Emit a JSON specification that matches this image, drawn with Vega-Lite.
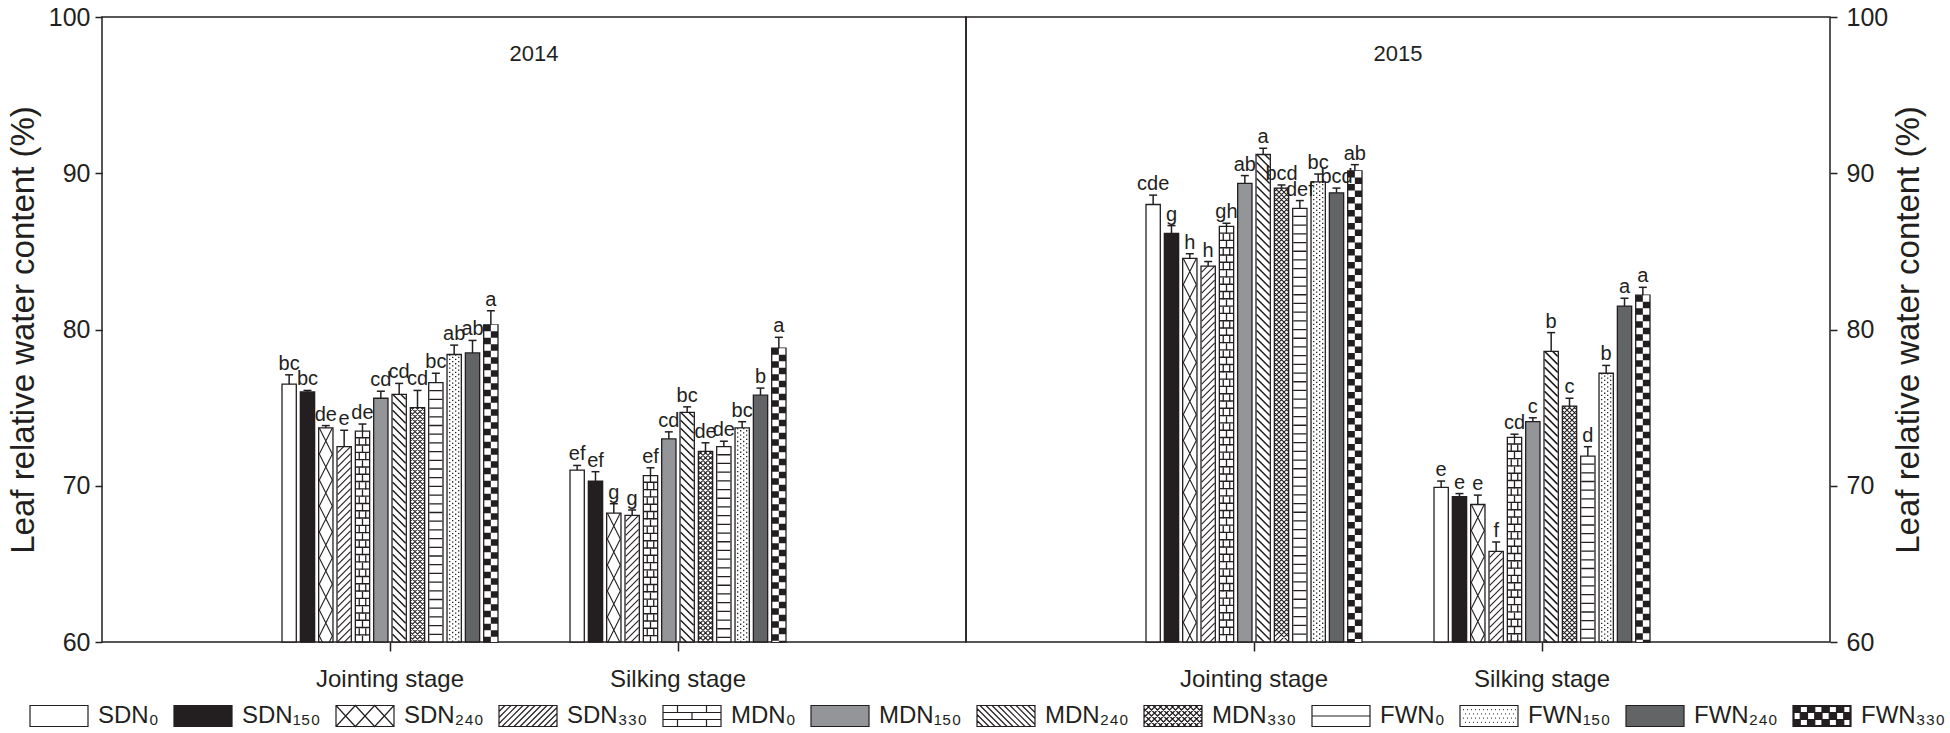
{
"$schema":"https://vega.github.io/schema/vega-lite/v6.json",
"padding":{"left":6,"top":4,"right":0,"bottom":0},
"background":"white",
"config":{
 "font":"Liberation Sans",
 "view":{"stroke":"#231f20","strokeWidth":1.5},
 "axis":{"labelFont":"Liberation Sans","titleFont":"Liberation Sans","labelColor":"#231f20","titleColor":"#231f20","tickColor":"#231f20","domainColor":"#231f20","tickWidth":1.5,"grid":false,"titleFontWeight":"normal"},
 "legend":{"labelFont":"Liberation Sans"}
},
"data":{"name":"main"},
"datasets":{"main":[
{"y":2014,"s":"Jointing stage","t":"SDN₀","v":76.5,"u":77.1,"l":"bc"},
{"y":2014,"s":"Jointing stage","t":"SDN₁₅₀","v":76.0,"u":76.1,"l":"bc"},
{"y":2014,"s":"Jointing stage","t":"SDN₂₄₀","v":73.7,"u":73.85,"l":"de"},
{"y":2014,"s":"Jointing stage","t":"SDN₃₃₀","v":72.5,"u":73.55,"l":"e"},
{"y":2014,"s":"Jointing stage","t":"MDN₀","v":73.5,"u":73.95,"l":"de"},
{"y":2014,"s":"Jointing stage","t":"MDN₁₅₀","v":75.6,"u":76.05,"l":"cd"},
{"y":2014,"s":"Jointing stage","t":"MDN₂₄₀","v":75.85,"u":76.55,"l":"cd"},
{"y":2014,"s":"Jointing stage","t":"MDN₃₃₀","v":75.0,"u":76.1,"l":"cd"},
{"y":2014,"s":"Jointing stage","t":"FWN₀","v":76.6,"u":77.2,"l":"bc"},
{"y":2014,"s":"Jointing stage","t":"FWN₁₅₀","v":78.4,"u":79.0,"l":"ab"},
{"y":2014,"s":"Jointing stage","t":"FWN₂₄₀","v":78.5,"u":79.3,"l":"ab"},
{"y":2014,"s":"Jointing stage","t":"FWN₃₃₀","v":80.3,"u":81.2,"l":"a"},
{"y":2014,"s":"Silking stage","t":"SDN₀","v":71.0,"u":71.3,"l":"ef"},
{"y":2014,"s":"Silking stage","t":"SDN₁₅₀","v":70.3,"u":70.9,"l":"ef"},
{"y":2014,"s":"Silking stage","t":"SDN₂₄₀","v":68.25,"u":68.85,"l":"g"},
{"y":2014,"s":"Silking stage","t":"SDN₃₃₀","v":68.1,"u":68.45,"l":"g"},
{"y":2014,"s":"Silking stage","t":"MDN₀","v":70.65,"u":71.15,"l":"ef"},
{"y":2014,"s":"Silking stage","t":"MDN₁₅₀","v":73.0,"u":73.45,"l":"cd"},
{"y":2014,"s":"Silking stage","t":"MDN₂₄₀","v":74.7,"u":75.05,"l":"bc"},
{"y":2014,"s":"Silking stage","t":"MDN₃₃₀","v":72.2,"u":72.75,"l":"de"},
{"y":2014,"s":"Silking stage","t":"FWN₀","v":72.5,"u":72.85,"l":"de"},
{"y":2014,"s":"Silking stage","t":"FWN₁₅₀","v":73.7,"u":74.1,"l":"bc"},
{"y":2014,"s":"Silking stage","t":"FWN₂₄₀","v":75.8,"u":76.25,"l":"b"},
{"y":2014,"s":"Silking stage","t":"FWN₃₃₀","v":78.8,"u":79.5,"l":"a"},
{"y":2015,"s":"Jointing stage","t":"SDN₀","v":88.0,"u":88.6,"l":"cde"},
{"y":2015,"s":"Jointing stage","t":"SDN₁₅₀","v":86.15,"u":86.65,"l":"g"},
{"y":2015,"s":"Jointing stage","t":"SDN₂₄₀","v":84.55,"u":84.85,"l":"h"},
{"y":2015,"s":"Jointing stage","t":"SDN₃₃₀","v":84.05,"u":84.35,"l":"h"},
{"y":2015,"s":"Jointing stage","t":"MDN₀","v":86.6,"u":86.8,"l":"gh"},
{"y":2015,"s":"Jointing stage","t":"MDN₁₅₀","v":89.35,"u":89.85,"l":"ab"},
{"y":2015,"s":"Jointing stage","t":"MDN₂₄₀","v":91.2,"u":91.6,"l":"a"},
{"y":2015,"s":"Jointing stage","t":"MDN₃₃₀","v":89.05,"u":89.25,"l":"bcd"},
{"y":2015,"s":"Jointing stage","t":"FWN₀","v":87.75,"u":88.25,"l":"def"},
{"y":2015,"s":"Jointing stage","t":"FWN₁₅₀","v":89.45,"u":89.95,"l":"bc"},
{"y":2015,"s":"Jointing stage","t":"FWN₂₄₀","v":88.75,"u":89.05,"l":"bcd"},
{"y":2015,"s":"Jointing stage","t":"FWN₃₃₀","v":90.15,"u":90.55,"l":"ab"},
{"y":2015,"s":"Silking stage","t":"SDN₀","v":69.9,"u":70.3,"l":"e"},
{"y":2015,"s":"Silking stage","t":"SDN₁₅₀","v":69.3,"u":69.5,"l":"e"},
{"y":2015,"s":"Silking stage","t":"SDN₂₄₀","v":68.8,"u":69.4,"l":"e"},
{"y":2015,"s":"Silking stage","t":"SDN₃₃₀","v":65.8,"u":66.4,"l":"f"},
{"y":2015,"s":"Silking stage","t":"MDN₀","v":73.1,"u":73.3,"l":"cd"},
{"y":2015,"s":"Silking stage","t":"MDN₁₅₀","v":74.1,"u":74.35,"l":"c"},
{"y":2015,"s":"Silking stage","t":"MDN₂₄₀","v":78.6,"u":79.8,"l":"b"},
{"y":2015,"s":"Silking stage","t":"MDN₃₃₀","v":75.1,"u":75.6,"l":"c"},
{"y":2015,"s":"Silking stage","t":"FWN₀","v":71.9,"u":72.5,"l":"d"},
{"y":2015,"s":"Silking stage","t":"FWN₁₅₀","v":77.2,"u":77.7,"l":"b"},
{"y":2015,"s":"Silking stage","t":"FWN₂₄₀","v":81.5,"u":82.0,"l":"a"},
{"y":2015,"s":"Silking stage","t":"FWN₃₃₀","v":82.2,"u":82.7,"l":"a"}
]},
"spacing":0,
"bounds":"flush",
"hconcat":[
{
 "width":864,"height":625,
 "title":{"text":"2014","frame":"group","offset":-61,"fontSize":22,"fontWeight":"normal","font":"Liberation Sans","color":"#231f20"},
 "transform":[{"filter":"datum.y === 2014"}],
 "encoding":{
  "x":{"field":"s","type":"nominal","sort":["Jointing stage","Silking stage"],"scale":{"type":"band","paddingInner":0.25,"paddingOuter":0.625},"axis":{"title":null,"labelAngle":0,"labelFontSize":24,"tickSize":9,"labelPadding":16,"domain":false}},
  "xOffset":{"field":"t","type":"nominal","scale":{"domain":["SDN₀","SDN₁₅₀","SDN₂₄₀","SDN₃₃₀","MDN₀","MDN₁₅₀","MDN₂₄₀","MDN₃₃₀","FWN₀","FWN₁₅₀","FWN₂₄₀","FWN₃₃₀"],"paddingInner":0.22,"paddingOuter":0}},
  "y":{"field":"v","type":"quantitative","scale":{"domain":[60,100],"nice":false,"zero":false},"axis":{"orient":"left","values":[60,70,80,90,100],"title":"Leaf relative water content (%)","titleFontSize":33,"labelFontSize":25,"tickSize":7,"labelPadding":5,"titlePadding":8,"domain":false}}
 },
 "layer":[
  {"mark":{"type":"bar","stroke":"#231f20","strokeWidth":1.3},
   "encoding":{"y2":{"datum":60},
    "fill":{"field":"t","type":"nominal","scale":{"domain":["SDN₀","SDN₁₅₀","SDN₂₄₀","SDN₃₃₀","MDN₀","MDN₁₅₀","MDN₂₄₀","MDN₃₃₀","FWN₀","FWN₁₅₀","FWN₂₄₀","FWN₃₃₀"],"range":["#ffffff","#231f20","#ffffff","#ffffff","#ffffff","#939598","#ffffff","#ffffff","#ffffff","#ffffff","#636466","#231f20"]},
     "legend":{"orient":"none","legendX":-84,"legendY":687,"direction":"horizontal","gridAlign":"none","title":null,"symbolSize":4,"symbolStrokeColor":"#231f20","symbolStrokeWidth":1.2,"symbolOpacity":1,"labelFontSize":24,"labelColor":"#231f20","labelOffset":56,"columnPadding":3,"labelLimit":0,"padding":0,
      "encode":{"symbols":{"update":{
       "stroke":{"value":"#231f20"},"strokeWidth":{"value":1.2},"opacity":{"value":1},
       "shape":{"signal":"datum.value==='SDN₂₄₀'?'M0,-10.5H58V10.5H0ZM0,-10.5L19.33,10.5L38.67,-10.5L58,10.5M0,10.5L19.33,-10.5L38.67,10.5L58,-10.5':datum.value==='SDN₃₃₀'?'M0,-10.5H58V10.5H0ZM0,-4.5L6,-10.5M0,1.5L12,-10.5M0,7.5L18,-10.5M3,10.5L24,-10.5M9,10.5L30,-10.5M15,10.5L36,-10.5M21,10.5L42,-10.5M27,10.5L48,-10.5M33,10.5L54,-10.5M39,10.5L58,-8.5M45,10.5L58,-2.5M51,10.5L58,3.5M57,10.5L58,9.5':datum.value==='MDN₀'?'M0,-10.5H58V10.5H0ZM0,-3.5H58M0,3.5H58M14.5,-10.5V-3.5M43.5,-10.5V-3.5M29,-3.5V3.5M14.5,3.5V10.5M43.5,3.5V10.5':datum.value==='MDN₂₄₀'?'M0,-10.5H58V10.5H0ZM0,4.5L6,10.5M0,-1.5L12,10.5M0,-7.5L18,10.5M3,-10.5L24,10.5M9,-10.5L30,10.5M15,-10.5L36,10.5M21,-10.5L42,10.5M27,-10.5L48,10.5M33,-10.5L54,10.5M39,-10.5L58,8.5M45,-10.5L58,2.5M51,-10.5L58,-3.5M57,-10.5L58,-9.5':datum.value==='MDN₃₃₀'?'M0,-10.5H58V10.5H0ZM0,-4.5L6,-10.5M0,1.5L12,-10.5M0,7.5L18,-10.5M3,10.5L24,-10.5M9,10.5L30,-10.5M15,10.5L36,-10.5M21,10.5L42,-10.5M27,10.5L48,-10.5M33,10.5L54,-10.5M39,10.5L58,-8.5M45,10.5L58,-2.5M51,10.5L58,3.5M57,10.5L58,9.5M0,4.5L6,10.5M0,-1.5L12,10.5M0,-7.5L18,10.5M3,-10.5L24,10.5M9,-10.5L30,10.5M15,-10.5L36,10.5M21,-10.5L42,10.5M27,-10.5L48,10.5M33,-10.5L54,10.5M39,-10.5L58,8.5M45,-10.5L58,2.5M51,-10.5L58,-3.5M57,-10.5L58,-9.5':datum.value==='FWN₀'?'M0,-10.5H58V10.5H0ZM0,0H58':datum.value==='FWN₁₅₀'?'M0,-10.5H58V10.5H0ZM3,-6.3h0.8m3.2,0h0.8m3.2,0h0.8m3.2,0h0.8m3.2,0h0.8m3.2,0h0.8m3.2,0h0.8m3.2,0h0.8m3.2,0h0.8m3.2,0h0.8m3.2,0h0.8m3.2,0h0.8m3.2,0h0.8m3.2,0h0.8M5,-2.1h0.8m3.2,0h0.8m3.2,0h0.8m3.2,0h0.8m3.2,0h0.8m3.2,0h0.8m3.2,0h0.8m3.2,0h0.8m3.2,0h0.8m3.2,0h0.8m3.2,0h0.8m3.2,0h0.8m3.2,0h0.8M3,2.1h0.8m3.2,0h0.8m3.2,0h0.8m3.2,0h0.8m3.2,0h0.8m3.2,0h0.8m3.2,0h0.8m3.2,0h0.8m3.2,0h0.8m3.2,0h0.8m3.2,0h0.8m3.2,0h0.8m3.2,0h0.8m3.2,0h0.8M5,6.3h0.8m3.2,0h0.8m3.2,0h0.8m3.2,0h0.8m3.2,0h0.8m3.2,0h0.8m3.2,0h0.8m3.2,0h0.8m3.2,0h0.8m3.2,0h0.8m3.2,0h0.8m3.2,0h0.8m3.2,0h0.8':datum.value==='FWN₃₃₀'?'M0,-10.5H58V10.5H0ZM1,-9.5V9.5H57V-9.5ZM0,-10.5h7.25v7h-7.25zM14.5,-10.5h7.25v7h-7.25zM29,-10.5h7.25v7h-7.25zM43.5,-10.5h7.25v7h-7.25zM7.25,-3.5h7.25v7h-7.25zM21.75,-3.5h7.25v7h-7.25zM36.25,-3.5h7.25v7h-7.25zM50.75,-3.5h7.25v7h-7.25zM0,3.5h7.25v7h-7.25zM14.5,3.5h7.25v7h-7.25zM29,3.5h7.25v7h-7.25zM43.5,3.5h7.25v7h-7.25z':'M0,-10.5H58V10.5H0Z'"}
      }}}}}}},
  {"transform":[{"filter":"datum.t === 'SDN₂₄₀'"}],"mark":{"type":"point","clip":true,"size":4,"filled":false,"opacity":1,"stroke":"#231f20","strokeWidth":1.1,"shape":"M-6.5,0l13,26l-13,26l13,26l-13,26l13,26l-13,26l13,26l-13,26l13,26l-13,26l13,26l-13,26l13,26l-13,26l13,26l-13,26M6.5,0l-13,26l13,26l-13,26l13,26l-13,26l13,26l-13,26l13,26l-13,26l13,26l-13,26l13,26l-13,26l13,26l-13,26l13,26"}},
  {"transform":[{"filter":"datum.t === 'SDN₃₃₀'"}],"mark":{"type":"point","clip":true,"size":4,"filled":false,"opacity":1,"stroke":"#231f20","strokeWidth":1.1,"shape":"M-6.5,6L-0.5,0M-6.5,13l13,-13m-13,20l13,-13m-13,20l13,-13m-13,20l13,-13m-13,20l13,-13m-13,20l13,-13m-13,20l13,-13m-13,20l13,-13m-13,20l13,-13m-13,20l13,-13m-13,20l13,-13m-13,20l13,-13m-13,20l13,-13m-13,20l13,-13m-13,20l13,-13m-13,20l13,-13m-13,20l13,-13m-13,20l13,-13m-13,20l13,-13m-13,20l13,-13m-13,20l13,-13m-13,20l13,-13m-13,20l13,-13m-13,20l13,-13m-13,20l13,-13m-13,20l13,-13m-13,20l13,-13m-13,20l13,-13m-13,20l13,-13m-13,20l13,-13m-13,20l13,-13m-13,20l13,-13m-13,20l13,-13m-13,20l13,-13m-13,20l13,-13m-13,20l13,-13m-13,20l13,-13m-13,20l13,-13m-13,20l13,-13m-13,20l13,-13m-13,20l13,-13m-13,20l13,-13m-13,20l13,-13m-13,20l13,-13m-13,20l13,-13m-13,20l13,-13m-13,20l13,-13m-13,20l13,-13m-13,20l13,-13m-13,20l13,-13m-13,20l13,-13m-13,20l13,-13m-13,20l13,-13m-13,20l13,-13m-13,20l13,-13"}},
  {"transform":[{"filter":"datum.t === 'MDN₀'"}],"mark":{"type":"point","clip":true,"size":4,"filled":false,"opacity":1,"stroke":"#231f20","strokeWidth":13,"strokeDash":[1.4,5.9],"shape":"M0,6V500"}},
  {"transform":[{"filter":"datum.t === 'MDN₀'"}],"mark":{"type":"point","clip":true,"size":4,"filled":false,"opacity":1,"stroke":"#231f20","strokeWidth":1.3,"strokeDash":[7.3,7.3],"shape":"M0,0V496.4M-3.25,7.3V503.7M3.25,7.3V503.7"}},
  {"transform":[{"filter":"datum.t === 'MDN₂₄₀'"}],"mark":{"type":"point","clip":true,"size":4,"filled":false,"opacity":1,"stroke":"#231f20","strokeWidth":1.5,"shape":"M1.5,0L6.5,5M-6.5,0l13,13m-13,-5l13,13m-13,-5l13,13m-13,-5l13,13m-13,-5l13,13m-13,-5l13,13m-13,-5l13,13m-13,-5l13,13m-13,-5l13,13m-13,-5l13,13m-13,-5l13,13m-13,-5l13,13m-13,-5l13,13m-13,-5l13,13m-13,-5l13,13m-13,-5l13,13m-13,-5l13,13m-13,-5l13,13m-13,-5l13,13m-13,-5l13,13m-13,-5l13,13m-13,-5l13,13m-13,-5l13,13m-13,-5l13,13m-13,-5l13,13m-13,-5l13,13m-13,-5l13,13m-13,-5l13,13m-13,-5l13,13m-13,-5l13,13m-13,-5l13,13m-13,-5l13,13m-13,-5l13,13m-13,-5l13,13m-13,-5l13,13m-13,-5l13,13m-13,-5l13,13m-13,-5l13,13m-13,-5l13,13m-13,-5l13,13m-13,-5l13,13m-13,-5l13,13m-13,-5l13,13m-13,-5l13,13m-13,-5l13,13m-13,-5l13,13m-13,-5l13,13m-13,-5l13,13m-13,-5l13,13m-13,-5l13,13m-13,-5l13,13m-13,-5l13,13m-13,-5l13,13m-13,-5l13,13m-13,-5l13,13m-13,-5l13,13m-13,-5l13,13m-13,-5l13,13m-13,-5l13,13m-13,-5l13,13m-13,-5l13,13m-13,-5l13,13m-13,-5l13,13m-13,-5l13,13m-13,-5l13,13"}},
  {"transform":[{"filter":"datum.t === 'MDN₃₃₀'"}],"mark":{"type":"point","clip":true,"size":4,"filled":false,"opacity":1,"stroke":"#231f20","strokeWidth":1.1,"shape":"M-6.5,3L-3.5,0M-6.5,8L1.5,0M-6.5,13l13,-13m-13,18l13,-13m-13,18l13,-13m-13,18l13,-13m-13,18l13,-13m-13,18l13,-13m-13,18l13,-13m-13,18l13,-13m-13,18l13,-13m-13,18l13,-13m-13,18l13,-13m-13,18l13,-13m-13,18l13,-13m-13,18l13,-13m-13,18l13,-13m-13,18l13,-13m-13,18l13,-13m-13,18l13,-13m-13,18l13,-13m-13,18l13,-13m-13,18l13,-13m-13,18l13,-13m-13,18l13,-13m-13,18l13,-13m-13,18l13,-13m-13,18l13,-13m-13,18l13,-13m-13,18l13,-13m-13,18l13,-13m-13,18l13,-13m-13,18l13,-13m-13,18l13,-13m-13,18l13,-13m-13,18l13,-13m-13,18l13,-13m-13,18l13,-13m-13,18l13,-13m-13,18l13,-13m-13,18l13,-13m-13,18l13,-13m-13,18l13,-13m-13,18l13,-13m-13,18l13,-13m-13,18l13,-13m-13,18l13,-13m-13,18l13,-13m-13,18l13,-13m-13,18l13,-13m-13,18l13,-13m-13,18l13,-13m-13,18l13,-13m-13,18l13,-13m-13,18l13,-13m-13,18l13,-13m-13,18l13,-13m-13,18l13,-13m-13,18l13,-13m-13,18l13,-13m-13,18l13,-13m-13,18l13,-13m-13,18l13,-13m-13,18l13,-13m-13,18l13,-13m-13,18l13,-13m-13,18l13,-13m-13,18l13,-13m-13,18l13,-13m-13,18l13,-13m-13,18l13,-13m-13,18l13,-13m-13,18l13,-13m-13,18l13,-13m-13,18l13,-13m-13,18l13,-13m-13,18l13,-13m-13,18l13,-13m-13,18l13,-13m-13,18l13,-13m-13,18l13,-13m-13,18l13,-13m-13,18l13,-13m-13,18l13,-13m-13,18l13,-13m-13,18l13,-13m-13,18l13,-13m-13,18l13,-13m-13,18l13,-13M3.5,0L6.5,3M-1.5,0L6.5,8M-6.5,0l13,13m-13,-8l13,13m-13,-8l13,13m-13,-8l13,13m-13,-8l13,13m-13,-8l13,13m-13,-8l13,13m-13,-8l13,13m-13,-8l13,13m-13,-8l13,13m-13,-8l13,13m-13,-8l13,13m-13,-8l13,13m-13,-8l13,13m-13,-8l13,13m-13,-8l13,13m-13,-8l13,13m-13,-8l13,13m-13,-8l13,13m-13,-8l13,13m-13,-8l13,13m-13,-8l13,13m-13,-8l13,13m-13,-8l13,13m-13,-8l13,13m-13,-8l13,13m-13,-8l13,13m-13,-8l13,13m-13,-8l13,13m-13,-8l13,13m-13,-8l13,13m-13,-8l13,13m-13,-8l13,13m-13,-8l13,13m-13,-8l13,13m-13,-8l13,13m-13,-8l13,13m-13,-8l13,13m-13,-8l13,13m-13,-8l13,13m-13,-8l13,13m-13,-8l13,13m-13,-8l13,13m-13,-8l13,13m-13,-8l13,13m-13,-8l13,13m-13,-8l13,13m-13,-8l13,13m-13,-8l13,13m-13,-8l13,13m-13,-8l13,13m-13,-8l13,13m-13,-8l13,13m-13,-8l13,13m-13,-8l13,13m-13,-8l13,13m-13,-8l13,13m-13,-8l13,13m-13,-8l13,13m-13,-8l13,13m-13,-8l13,13m-13,-8l13,13m-13,-8l13,13m-13,-8l13,13m-13,-8l13,13m-13,-8l13,13m-13,-8l13,13m-13,-8l13,13m-13,-8l13,13m-13,-8l13,13m-13,-8l13,13m-13,-8l13,13m-13,-8l13,13m-13,-8l13,13m-13,-8l13,13m-13,-8l13,13m-13,-8l13,13m-13,-8l13,13m-13,-8l13,13m-13,-8l13,13m-13,-8l13,13m-13,-8l13,13m-13,-8l13,13m-13,-8l13,13m-13,-8l13,13m-13,-8l13,13m-13,-8l13,13"}},
  {"transform":[{"filter":"datum.t === 'FWN₀'"}],"mark":{"type":"point","clip":true,"size":4,"filled":false,"opacity":1,"stroke":"#231f20","strokeWidth":13,"strokeDash":[1.3,7.4],"shape":"M0,7.4V500"}},
  {"transform":[{"filter":"datum.t === 'FWN₁₅₀'"}],"mark":{"type":"point","clip":true,"size":4,"filled":false,"opacity":1,"stroke":"#231f20","strokeWidth":1.3,"strokeDash":[1.3,3],"shape":"M-4.5,0V494.5M1.5,0V494.5M-1.5,2.15V496.65M4.5,2.15V496.65"}},
  {"transform":[{"filter":"datum.t === 'FWN₃₃₀'"}],"mark":{"type":"point","clip":true,"size":4,"filled":false,"opacity":1,"stroke":"#ffffff","strokeWidth":6.5,"strokeDash":[6.5,6.5],"shape":"M3.25,0V494M-3.25,6.5V500.5"}},
  {"mark":{"type":"rule","stroke":"#231f20","strokeWidth":1.5},"encoding":{"y2":{"field":"u"}}},
  {"mark":{"type":"tick","orient":"horizontal","color":"#231f20","thickness":1.5,"opacity":1},"encoding":{"y":{"field":"u","type":"quantitative"},"size":{"value":8}}},
  {"mark":{"type":"text","baseline":"alphabetic","dy":-5,"fontSize":20,"color":"#231f20"},"encoding":{"y":{"field":"u","type":"quantitative"},"text":{"field":"l"}}}
 ]
},
{
 "width":864,"height":625,
 "title":{"text":"2015","frame":"group","offset":-61,"fontSize":22,"fontWeight":"normal","font":"Liberation Sans","color":"#231f20"},
 "transform":[{"filter":"datum.y === 2015"}],
 "encoding":{
  "x":{"field":"s","type":"nominal","sort":["Jointing stage","Silking stage"],"scale":{"type":"band","paddingInner":0.25,"paddingOuter":0.625},"axis":{"title":null,"labelAngle":0,"labelFontSize":24,"tickSize":9,"labelPadding":16,"domain":false}},
  "xOffset":{"field":"t","type":"nominal","scale":{"domain":["SDN₀","SDN₁₅₀","SDN₂₄₀","SDN₃₃₀","MDN₀","MDN₁₅₀","MDN₂₄₀","MDN₃₃₀","FWN₀","FWN₁₅₀","FWN₂₄₀","FWN₃₃₀"],"paddingInner":0.22,"paddingOuter":0}},
  "y":{"field":"v","type":"quantitative","scale":{"domain":[60,100],"nice":false,"zero":false},"axis":{"orient":"right","values":[60,70,80,90,100],"title":"Leaf relative water content (%)","titleAngle":270,"titleBaseline":"top","titleFontSize":33,"labelFontSize":25,"tickSize":7,"labelPadding":9,"titlePadding":5,"domain":false}}
 },
 "layer":[
  {"mark":{"type":"bar","stroke":"#231f20","strokeWidth":1.3},
   "encoding":{"y2":{"datum":60},
    "fill":{"field":"t","type":"nominal","scale":{"domain":["SDN₀","SDN₁₅₀","SDN₂₄₀","SDN₃₃₀","MDN₀","MDN₁₅₀","MDN₂₄₀","MDN₃₃₀","FWN₀","FWN₁₅₀","FWN₂₄₀","FWN₃₃₀"],"range":["#ffffff","#231f20","#ffffff","#ffffff","#ffffff","#939598","#ffffff","#ffffff","#ffffff","#ffffff","#636466","#231f20"]},"legend":null}}},
  {"transform":[{"filter":"datum.t === 'SDN₂₄₀'"}],"mark":{"type":"point","clip":true,"size":4,"filled":false,"opacity":1,"stroke":"#231f20","strokeWidth":1.1,"shape":"M-6.5,0l13,26l-13,26l13,26l-13,26l13,26l-13,26l13,26l-13,26l13,26l-13,26l13,26l-13,26l13,26l-13,26l13,26l-13,26M6.5,0l-13,26l13,26l-13,26l13,26l-13,26l13,26l-13,26l13,26l-13,26l13,26l-13,26l13,26l-13,26l13,26l-13,26l13,26"}},
  {"transform":[{"filter":"datum.t === 'SDN₃₃₀'"}],"mark":{"type":"point","clip":true,"size":4,"filled":false,"opacity":1,"stroke":"#231f20","strokeWidth":1.1,"shape":"M-6.5,6L-0.5,0M-6.5,13l13,-13m-13,20l13,-13m-13,20l13,-13m-13,20l13,-13m-13,20l13,-13m-13,20l13,-13m-13,20l13,-13m-13,20l13,-13m-13,20l13,-13m-13,20l13,-13m-13,20l13,-13m-13,20l13,-13m-13,20l13,-13m-13,20l13,-13m-13,20l13,-13m-13,20l13,-13m-13,20l13,-13m-13,20l13,-13m-13,20l13,-13m-13,20l13,-13m-13,20l13,-13m-13,20l13,-13m-13,20l13,-13m-13,20l13,-13m-13,20l13,-13m-13,20l13,-13m-13,20l13,-13m-13,20l13,-13m-13,20l13,-13m-13,20l13,-13m-13,20l13,-13m-13,20l13,-13m-13,20l13,-13m-13,20l13,-13m-13,20l13,-13m-13,20l13,-13m-13,20l13,-13m-13,20l13,-13m-13,20l13,-13m-13,20l13,-13m-13,20l13,-13m-13,20l13,-13m-13,20l13,-13m-13,20l13,-13m-13,20l13,-13m-13,20l13,-13m-13,20l13,-13m-13,20l13,-13m-13,20l13,-13m-13,20l13,-13m-13,20l13,-13m-13,20l13,-13m-13,20l13,-13m-13,20l13,-13m-13,20l13,-13"}},
  {"transform":[{"filter":"datum.t === 'MDN₀'"}],"mark":{"type":"point","clip":true,"size":4,"filled":false,"opacity":1,"stroke":"#231f20","strokeWidth":13,"strokeDash":[1.4,5.9],"shape":"M0,6V500"}},
  {"transform":[{"filter":"datum.t === 'MDN₀'"}],"mark":{"type":"point","clip":true,"size":4,"filled":false,"opacity":1,"stroke":"#231f20","strokeWidth":1.3,"strokeDash":[7.3,7.3],"shape":"M0,0V496.4M-3.25,7.3V503.7M3.25,7.3V503.7"}},
  {"transform":[{"filter":"datum.t === 'MDN₂₄₀'"}],"mark":{"type":"point","clip":true,"size":4,"filled":false,"opacity":1,"stroke":"#231f20","strokeWidth":1.5,"shape":"M1.5,0L6.5,5M-6.5,0l13,13m-13,-5l13,13m-13,-5l13,13m-13,-5l13,13m-13,-5l13,13m-13,-5l13,13m-13,-5l13,13m-13,-5l13,13m-13,-5l13,13m-13,-5l13,13m-13,-5l13,13m-13,-5l13,13m-13,-5l13,13m-13,-5l13,13m-13,-5l13,13m-13,-5l13,13m-13,-5l13,13m-13,-5l13,13m-13,-5l13,13m-13,-5l13,13m-13,-5l13,13m-13,-5l13,13m-13,-5l13,13m-13,-5l13,13m-13,-5l13,13m-13,-5l13,13m-13,-5l13,13m-13,-5l13,13m-13,-5l13,13m-13,-5l13,13m-13,-5l13,13m-13,-5l13,13m-13,-5l13,13m-13,-5l13,13m-13,-5l13,13m-13,-5l13,13m-13,-5l13,13m-13,-5l13,13m-13,-5l13,13m-13,-5l13,13m-13,-5l13,13m-13,-5l13,13m-13,-5l13,13m-13,-5l13,13m-13,-5l13,13m-13,-5l13,13m-13,-5l13,13m-13,-5l13,13m-13,-5l13,13m-13,-5l13,13m-13,-5l13,13m-13,-5l13,13m-13,-5l13,13m-13,-5l13,13m-13,-5l13,13m-13,-5l13,13m-13,-5l13,13m-13,-5l13,13m-13,-5l13,13m-13,-5l13,13m-13,-5l13,13m-13,-5l13,13m-13,-5l13,13m-13,-5l13,13"}},
  {"transform":[{"filter":"datum.t === 'MDN₃₃₀'"}],"mark":{"type":"point","clip":true,"size":4,"filled":false,"opacity":1,"stroke":"#231f20","strokeWidth":1.1,"shape":"M-6.5,3L-3.5,0M-6.5,8L1.5,0M-6.5,13l13,-13m-13,18l13,-13m-13,18l13,-13m-13,18l13,-13m-13,18l13,-13m-13,18l13,-13m-13,18l13,-13m-13,18l13,-13m-13,18l13,-13m-13,18l13,-13m-13,18l13,-13m-13,18l13,-13m-13,18l13,-13m-13,18l13,-13m-13,18l13,-13m-13,18l13,-13m-13,18l13,-13m-13,18l13,-13m-13,18l13,-13m-13,18l13,-13m-13,18l13,-13m-13,18l13,-13m-13,18l13,-13m-13,18l13,-13m-13,18l13,-13m-13,18l13,-13m-13,18l13,-13m-13,18l13,-13m-13,18l13,-13m-13,18l13,-13m-13,18l13,-13m-13,18l13,-13m-13,18l13,-13m-13,18l13,-13m-13,18l13,-13m-13,18l13,-13m-13,18l13,-13m-13,18l13,-13m-13,18l13,-13m-13,18l13,-13m-13,18l13,-13m-13,18l13,-13m-13,18l13,-13m-13,18l13,-13m-13,18l13,-13m-13,18l13,-13m-13,18l13,-13m-13,18l13,-13m-13,18l13,-13m-13,18l13,-13m-13,18l13,-13m-13,18l13,-13m-13,18l13,-13m-13,18l13,-13m-13,18l13,-13m-13,18l13,-13m-13,18l13,-13m-13,18l13,-13m-13,18l13,-13m-13,18l13,-13m-13,18l13,-13m-13,18l13,-13m-13,18l13,-13m-13,18l13,-13m-13,18l13,-13m-13,18l13,-13m-13,18l13,-13m-13,18l13,-13m-13,18l13,-13m-13,18l13,-13m-13,18l13,-13m-13,18l13,-13m-13,18l13,-13m-13,18l13,-13m-13,18l13,-13m-13,18l13,-13m-13,18l13,-13m-13,18l13,-13m-13,18l13,-13m-13,18l13,-13m-13,18l13,-13m-13,18l13,-13m-13,18l13,-13m-13,18l13,-13m-13,18l13,-13m-13,18l13,-13m-13,18l13,-13m-13,18l13,-13m-13,18l13,-13m-13,18l13,-13M3.5,0L6.5,3M-1.5,0L6.5,8M-6.5,0l13,13m-13,-8l13,13m-13,-8l13,13m-13,-8l13,13m-13,-8l13,13m-13,-8l13,13m-13,-8l13,13m-13,-8l13,13m-13,-8l13,13m-13,-8l13,13m-13,-8l13,13m-13,-8l13,13m-13,-8l13,13m-13,-8l13,13m-13,-8l13,13m-13,-8l13,13m-13,-8l13,13m-13,-8l13,13m-13,-8l13,13m-13,-8l13,13m-13,-8l13,13m-13,-8l13,13m-13,-8l13,13m-13,-8l13,13m-13,-8l13,13m-13,-8l13,13m-13,-8l13,13m-13,-8l13,13m-13,-8l13,13m-13,-8l13,13m-13,-8l13,13m-13,-8l13,13m-13,-8l13,13m-13,-8l13,13m-13,-8l13,13m-13,-8l13,13m-13,-8l13,13m-13,-8l13,13m-13,-8l13,13m-13,-8l13,13m-13,-8l13,13m-13,-8l13,13m-13,-8l13,13m-13,-8l13,13m-13,-8l13,13m-13,-8l13,13m-13,-8l13,13m-13,-8l13,13m-13,-8l13,13m-13,-8l13,13m-13,-8l13,13m-13,-8l13,13m-13,-8l13,13m-13,-8l13,13m-13,-8l13,13m-13,-8l13,13m-13,-8l13,13m-13,-8l13,13m-13,-8l13,13m-13,-8l13,13m-13,-8l13,13m-13,-8l13,13m-13,-8l13,13m-13,-8l13,13m-13,-8l13,13m-13,-8l13,13m-13,-8l13,13m-13,-8l13,13m-13,-8l13,13m-13,-8l13,13m-13,-8l13,13m-13,-8l13,13m-13,-8l13,13m-13,-8l13,13m-13,-8l13,13m-13,-8l13,13m-13,-8l13,13m-13,-8l13,13m-13,-8l13,13m-13,-8l13,13m-13,-8l13,13m-13,-8l13,13m-13,-8l13,13m-13,-8l13,13m-13,-8l13,13m-13,-8l13,13m-13,-8l13,13m-13,-8l13,13m-13,-8l13,13"}},
  {"transform":[{"filter":"datum.t === 'FWN₀'"}],"mark":{"type":"point","clip":true,"size":4,"filled":false,"opacity":1,"stroke":"#231f20","strokeWidth":13,"strokeDash":[1.3,7.4],"shape":"M0,7.4V500"}},
  {"transform":[{"filter":"datum.t === 'FWN₁₅₀'"}],"mark":{"type":"point","clip":true,"size":4,"filled":false,"opacity":1,"stroke":"#231f20","strokeWidth":1.3,"strokeDash":[1.3,3],"shape":"M-4.5,0V494.5M1.5,0V494.5M-1.5,2.15V496.65M4.5,2.15V496.65"}},
  {"transform":[{"filter":"datum.t === 'FWN₃₃₀'"}],"mark":{"type":"point","clip":true,"size":4,"filled":false,"opacity":1,"stroke":"#ffffff","strokeWidth":6.5,"strokeDash":[6.5,6.5],"shape":"M3.25,0V494M-3.25,6.5V500.5"}},
  {"mark":{"type":"rule","stroke":"#231f20","strokeWidth":1.5},"encoding":{"y2":{"field":"u"}}},
  {"mark":{"type":"tick","orient":"horizontal","color":"#231f20","thickness":1.5,"opacity":1},"encoding":{"y":{"field":"u","type":"quantitative"},"size":{"value":8}}},
  {"mark":{"type":"text","baseline":"alphabetic","dy":-5,"fontSize":20,"color":"#231f20"},"encoding":{"y":{"field":"u","type":"quantitative"},"text":{"field":"l"}}}
 ]
}
]
}
